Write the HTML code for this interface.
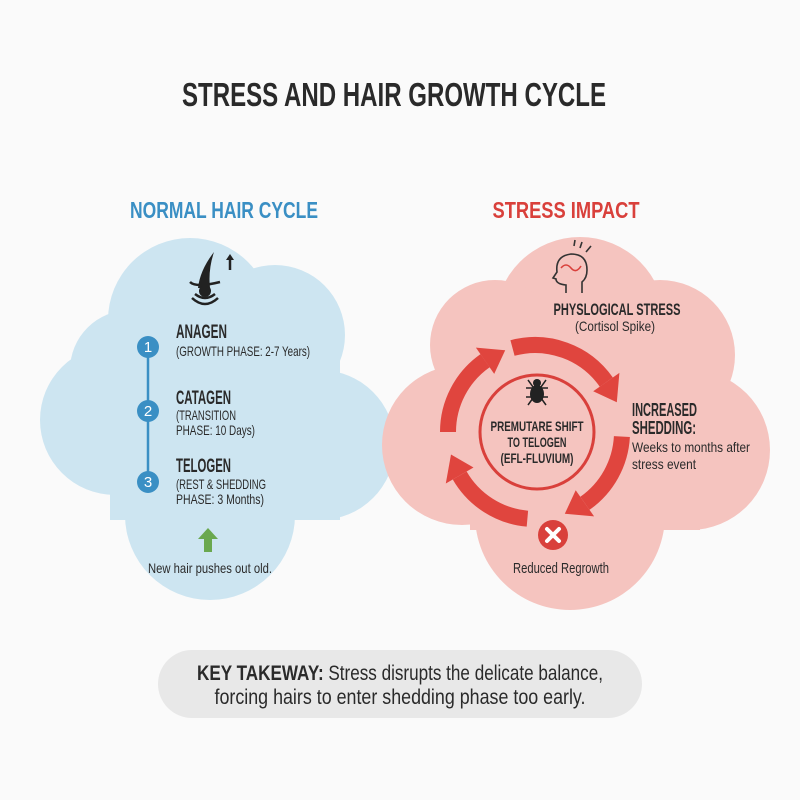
<!DOCTYPE html>
<html><head><meta charset="utf-8"><style>
html,body{margin:0;padding:0;background:#fafafa}
svg{display:block}
text{font-family:"Liberation Sans Narrow","Liberation Sans",sans-serif;fill:#2a2a2a}
.b{font-weight:bold}
</style></head><body>
<svg width="800" height="800" viewBox="0 0 800 800" xmlns="http://www.w3.org/2000/svg">
<rect width="800" height="800" fill="#fafafa"/>
<text x="394" y="106" text-anchor="middle" font-size="33" class="b" textLength="424" lengthAdjust="spacingAndGlyphs">STRESS AND HAIR GROWTH CYCLE</text>
<text x="224" y="218" text-anchor="middle" font-size="23" class="b" style="fill:#3a8fc4" textLength="188" lengthAdjust="spacingAndGlyphs">NORMAL HAIR CYCLE</text>
<text x="566" y="218" text-anchor="middle" font-size="23" class="b" style="fill:#d9403b" textLength="147" lengthAdjust="spacingAndGlyphs">STRESS IMPACT</text>

<!-- left cloud -->
<g fill="#cde5f1">
<circle cx="190" cy="320" r="82"/><circle cx="275" cy="335" r="70"/>
<circle cx="115" cy="420" r="75"/><circle cx="320" cy="445" r="75"/>
<circle cx="210" cy="515" r="85"/><rect x="110" y="330" width="230" height="190"/>
<circle cx="130" cy="370" r="60"/>
</g>
<!-- right cloud -->
<g fill="#f5c4bf">
<circle cx="580" cy="322" r="85"/><circle cx="660" cy="355" r="75"/><circle cx="495" cy="345" r="65"/>
<circle cx="462" cy="445" r="80"/><circle cx="690" cy="450" r="80"/>
<circle cx="570" cy="515" r="95"/><rect x="470" y="340" width="230" height="190"/>
</g>

<!-- hair icon -->
<g stroke="#222" fill="none" stroke-width="2.5">
<path d="M190 282 q6 6 30 0"/><path d="M195 294 q10 8 20 0"/><path d="M192 298 q13 12 26 0"/>
<line x1="230" y1="270" x2="230" y2="256"/>
</g>
<path d="M226 260 L230 254 L234 260Z" fill="#222"/>
<path d="M198 288 q2 -18 16 -36 q-6 18 -4 36 z" fill="#222"/>
<circle cx="205" cy="291" r="6" fill="#222"/>

<!-- timeline -->
<line x1="148" y1="347" x2="148" y2="482" stroke="#3a8fc4" stroke-width="2.5"/>
<g fill="#3a8fc4"><circle cx="148" cy="347" r="11"/><circle cx="148" cy="411" r="11"/><circle cx="148" cy="482" r="11"/></g>
<g font-size="15" text-anchor="middle"><text x="148" y="352" style="fill:#fff">1</text><text x="148" y="416" style="fill:#fff">2</text><text x="148" y="487" style="fill:#fff">3</text></g>
<text x="176" y="338" font-size="19" class="b" textLength="51" lengthAdjust="spacingAndGlyphs">ANAGEN</text>
<text x="176" y="356" font-size="14" textLength="134" lengthAdjust="spacingAndGlyphs">(GROWTH PHASE: 2-7 Years)</text>
<text x="176" y="404" font-size="19" class="b" textLength="55" lengthAdjust="spacingAndGlyphs">CATAGEN</text>
<text x="176" y="420" font-size="14" textLength="60" lengthAdjust="spacingAndGlyphs">(TRANSITION</text>
<text x="176" y="435" font-size="14" textLength="79" lengthAdjust="spacingAndGlyphs">PHASE: 10 Days)</text>
<text x="176" y="472" font-size="19" class="b" textLength="55" lengthAdjust="spacingAndGlyphs">TELOGEN</text>
<text x="176" y="489" font-size="14" textLength="90" lengthAdjust="spacingAndGlyphs">(REST &amp; SHEDDING</text>
<text x="176" y="504" font-size="14" textLength="88" lengthAdjust="spacingAndGlyphs">PHASE: 3 Months)</text>
<path d="M208 528 L218 539 L212 539 L212 552 L204 552 L204 539 L198 539Z" fill="#6aa84f"/>
<text x="210" y="573" text-anchor="middle" font-size="14" textLength="124" lengthAdjust="spacingAndGlyphs">New hair pushes out old.</text>

<!-- head icon -->
<g stroke="#333" fill="none" stroke-width="1.6">
<path d="M566 293 v-8 q-10 -1 -10 -6 l-3 -1 l4 -6 q-2 -16 14 -18 q16 0 16 16 q0 8 -5 12 v11"/>
<path d="M561 268 q5 -6 10 0 q5 6 10 -2" stroke="#d9403b"/>
<line x1="580" y1="248" x2="582" y2="242"/><line x1="586" y1="252" x2="591" y2="246"/><line x1="574" y1="246" x2="575" y2="240"/>
</g>
<text x="617" y="315" text-anchor="middle" font-size="17" class="b" textLength="127" lengthAdjust="spacingAndGlyphs">PHYSLOGICAL STRESS</text>
<text x="615" y="331" text-anchor="middle" font-size="14" textLength="80" lengthAdjust="spacingAndGlyphs">(Cortisol Spike)</text>

<!-- cycle -->
<circle cx="537" cy="432" r="57" fill="none" stroke="#d9403b" stroke-width="3"/>
<g stroke="#e0453e" stroke-width="16" fill="none">
<path d="M512.5 348 A87 87 0 0 1 606.3 382.1"/>
<path d="M621.9 436.6 A87 87 0 0 1 584.9 503.3"/>
<path d="M527.4 518.7 A87 87 0 0 1 459.7 475.5"/>
<path d="M448 432 A87 87 0 0 1 485.1 360.7"/>
</g>
<g fill="#e0453e">
<polygon points="593.2,391.3 619.4,372.9 616.8,402.2"/>
<polygon points="575.7,490.2 594.1,516.4 564.8,513.8"/>
<polygon points="473.5,467.5 445.8,483.5 451,454.5"/>
<polygon points="494.2,373.9 475.9,347.6 505.2,350.2"/>
</g>
<!-- bug -->
<g stroke="#222" stroke-width="1.5">
<line x1="526" y1="388" x2="548" y2="388"/><line x1="526" y1="397" x2="548" y2="397"/>
<line x1="528" y1="380" x2="546" y2="405"/><line x1="546" y1="380" x2="528" y2="405"/>
</g>
<ellipse cx="537" cy="394" rx="7" ry="9" fill="#222"/><circle cx="537" cy="383" r="4" fill="#222"/>
<text x="537" y="431" text-anchor="middle" font-size="14" class="b" textLength="93" lengthAdjust="spacingAndGlyphs">PREMUTARE SHIFT</text>
<text x="537" y="447" text-anchor="middle" font-size="14" class="b" textLength="59" lengthAdjust="spacingAndGlyphs">TO TELOGEN</text>
<text x="537" y="463" text-anchor="middle" font-size="14" class="b" textLength="73" lengthAdjust="spacingAndGlyphs">(EFL-FLUVIUM)</text>

<text x="632" y="416" font-size="18" class="b" textLength="65" lengthAdjust="spacingAndGlyphs">INCREASED</text>
<text x="632" y="434" font-size="18" class="b" textLength="64" lengthAdjust="spacingAndGlyphs">SHEDDING:</text>
<text x="632" y="452" font-size="14" textLength="118" lengthAdjust="spacingAndGlyphs">Weeks to months after</text>
<text x="632" y="469" font-size="14" textLength="64" lengthAdjust="spacingAndGlyphs">stress event</text>

<circle cx="553" cy="535" r="15" fill="#d9403b"/>
<g stroke="#fff" stroke-width="4" stroke-linecap="round"><line x1="547" y1="529" x2="559" y2="541"/><line x1="559" y1="529" x2="547" y2="541"/></g>
<text x="561" y="573" text-anchor="middle" font-size="15" textLength="96" lengthAdjust="spacingAndGlyphs">Reduced Regrowth</text>

<!-- takeaway -->
<rect x="158" y="650" width="484" height="68" rx="34" fill="#e8e8e8"/>
<text x="400" y="680" text-anchor="middle" font-size="21" textLength="406" lengthAdjust="spacingAndGlyphs"><tspan class="b">KEY TAKEWAY:</tspan> Stress disrupts the delicate balance,</text>
<text x="400" y="704" text-anchor="middle" font-size="21" textLength="371" lengthAdjust="spacingAndGlyphs">forcing hairs to enter shedding phase too early.</text>
</svg>
</body></html>
